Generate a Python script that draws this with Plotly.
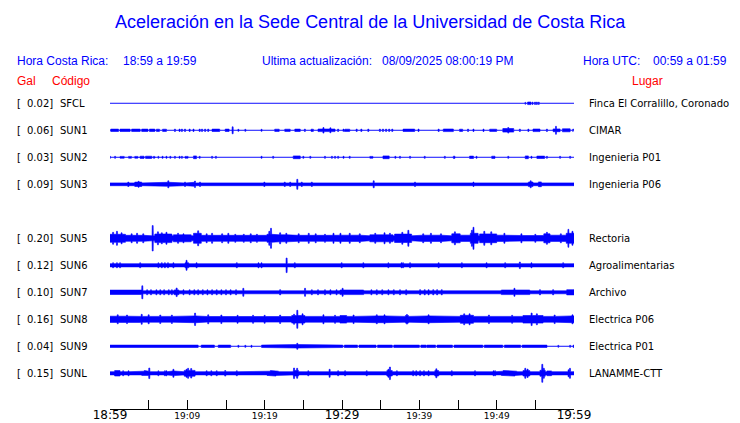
import numpy as np
import plotly.graph_objects as go

# ---------------- data ----------------
codes = ["SFCL", "SUN1", "SUN2", "SUN3", "SUN5", "SUN6", "SUN7", "SUN8", "SUN9", "SUNL"]
slots = [0, 1, 2, 3, 5, 6, 7, 8, 9, 10]
gal = ["0.02", "0.06", "0.03", "0.09", "0.20", "0.12", "0.10", "0.16", "0.04", "0.15"]
places = ["Finca El Corralillo, Coronado", "CIMAR", "Ingenieria P01", "Ingenieria P06",
          "Rectoria", "Agroalimentarias", "Archivo", "Electrica P06", "Electrica P01", "LANAMME-CTT"]

tick_minutes = [0, 5, 10, 15, 20, 25, 30, 35, 40, 45, 50, 55, 60]
big_labels = {0: "18:59", 30: "19:29", 60: "19:59"}
small_labels = {10: "19:09", 20: "19:19", 40: "19:39", 50: "19:49"}

# envelope description of each trace (minutes after 18:59, half amplitude in display units)
base = {"SFCL": 0, "SUN1": 0, "SUN2": 0, "SUN3": 1.4, "SUN5": 2.5, "SUN6": 1.6,
        "SUN7": 1.5, "SUN8": 2.3, "SUN9": 0, "SUNL": 1.6}

segs = {
    "SFCL": [(53.66, 53.75, 1.0), (54.0, 54.44, 1.3)],
    "SUN1": [(0.1, 1.1, 1.2), (1.3, 2.6, 1.2), (2.8, 3.9, 1.2), (4.1, 4.9, 1.2), (5.1, 5.8, 1.2),
             (6.0, 6.4, 1.1), (6.8, 7.3, 1.1), (13.2, 14.2, 1.2), (14.9, 15.4, 1.2), (21.3, 21.9, 1.1),
             (22.6, 23.3, 1.1), (23.9, 24.6, 1.2), (26.0, 26.3, 1.1), (26.9, 29.1, 1.3),
             (30.3, 31.0, 1.1), (37.9, 39.4, 1.2), (43.1, 44.4, 1.3), (45.2, 45.6, 1.1),
             (49.1, 50.0, 1.1), (50.8, 52.2, 1.8), (54.7, 55.6, 1.3), (57.3, 58.2, 1.4), (58.5, 59.5, 1.5)],
    "SUN2": [(1.3, 1.85, 0.9), (2.4, 2.8, 0.9), (3.2, 3.6, 0.9), (3.9, 4.4, 1.1), (4.6, 5.4, 1.1),
             (5.6, 5.8, 0.9), (9.7, 10.1, 0.9), (10.8, 11.2, 1.4), (23.7, 24.6, 1.4), (33.6, 34.0, 0.9),
             (35.3, 36.1, 1.4), (44.4, 44.6, 1.1), (46.5, 47.0, 1.2), (49.35, 49.8, 1.1),
             (53.7, 54.1, 1.4), (55.2, 56.2, 1.2)],
    "SUN3": [(0.4, 1.1, 2.0), (3.2, 4.1, 2.2), (4.5, 5.8, 1.8), (6.7, 8.4, 2.0), (10.3, 11.0, 2.0),
             (13.6, 14.0, 2.1), (35.56, 36.0, 2.1), (54.1, 54.7, 2.3), (55.4, 55.8, 2.4)],
    "SUN5": [(0, 2, 4.0), (2, 5.3, 3.0), (5.8, 8.0, 4.3), (8.2, 10.5, 3.5), (10.8, 11.8, 5.0),
             (11.8, 20.3, 3.0), (20.3, 21.5, 4.0), (21.5, 23.5, 3.5), (23.5, 30.4, 3.0),
             (29.7, 33.3, 3.1), (33.6, 36.6, 3.5), (36.8, 39.0, 4.2), (39.2, 44.0, 3.1),
             (44.2, 45.3, 4.5), (45.3, 46.6, 3.1), (46.6, 47.6, 5.0), (47.8, 50.0, 4.4),
             (50.0, 52.3, 3.1), (52.3, 56.1, 2.8), (56.1, 56.9, 4.5), (56.9, 59.0, 3.1), (59.0, 60.0, 5.0)],
    "SUN6": [(9.7, 10.2, 2.5), (43.8, 44.6, 2.3)],
    "SUN7": [(0, 1.9, 2.2), (3.0, 4.1, 2.2), (8.3, 8.9, 2.4), (19.5, 21.5, 2.2), (22.4, 24.9, 2.2),
             (29.74, 32.8, 2.3), (50.6, 54.3, 2.3), (59.05, 60, 2.6)],
    "SUN8": [(0, 4, 3.1), (4, 10, 2.9), (10, 12, 3.4), (12, 23.5, 2.8), (23.5, 25.2, 3.8),
             (25.2, 30.4, 2.9), (29.74, 30.6, 3.8), (30.6, 33.5, 2.9), (33.5, 36, 3.4), (36, 38.2, 2.9),
             (38.2, 38.6, 3.8), (38.6, 40.6, 2.9), (40.6, 41.8, 3.4), (41.8, 45.3, 2.9), (45.3, 47, 4.0),
             (47, 53.4, 2.9), (53.4, 56.0, 3.8), (56, 59.5, 2.9), (59.5, 60, 3.4)],
    "SUN9": [(0, 0.6, 1.2), (0.6, 1.5, 1.6), (1.5, 11.4, 1.2), (11.8, 13.5, 1.2), (14.0, 15.6, 1.2),
             (19.6, 24.0, 1.2), (24.0, 24.4, 1.7), (24.4, 30.1, 1.2), (30.3, 32.0, 1.2), (32.2, 34.4, 1.2),
             (34.6, 36.5, 1.2), (36.7, 40.0, 1.2), (40.2, 40.9, 1.2), (41.0, 42.1, 1.2), (42.3, 44.3, 1.2),
             (44.5, 48.2, 1.2), (48.4, 50.8, 1.2), (51.0, 53.1, 1.2), (53.3, 56.5, 1.2), (59.9, 60.0, 1.2)],
    "SUNL": [(0.6, 1.3, 2.7), (4.1, 5.0, 2.1), (8.0, 8.5, 2.3), (9.6, 11.0, 2.9), (20.3, 21.8, 2.1),
             (23.7, 24.4, 2.7), (35.8, 36.5, 2.7), (42.0, 42.5, 2.7), (50.6, 52.6, 2.1), (53.4, 54.3, 2.7),
             (55.6, 56.3, 3.0), (56.5, 57.1, 2.4)],
}

spikes = {
    "SFCL": [(54.65, 1.2), (54.96, 1.2), (55.2, 1.2), (55.45, 1.2)],
    "SUN1": [(8.4, 1.2), (9.0, 1.2), (9.3, 1.2), (9.7, 1.2), (10.3, 1.2), (10.8, 1.2), (11.6, 1.2),
             (11.9, 1.2), (12.3, 1.2), (12.7, 1.2), (15.86, 3.5), (16.6, 1.0), (17.5, 1.0), (19.6, 1.0),
             (25.2, 1.2), (27.6, 2.8), (28.5, 2.5), (29.5, 1.2), (30.2, 1.2), (31.9, 1.2), (32.5, 1.2),
             (33.4, 1.2), (34.9, 1.2), (35.3, 1.2), (35.7, 1.2), (36.1, 1.2), (36.5, 1.2), (39.9, 1.2),
             (42.5, 1.2), (46.3, 1.2), (47.0, 1.2), (48.3, 1.2), (51.2, 2.5), (51.5, 2.8), (53.0, 1.2),
             (54.1, 1.2), (56.5, 1.2), (57.67, 4.0), (59.9, 1.2)],
    "SUN2": [(0.0, 1.0), (0.65, 1.0), (6.25, 1.0), (6.8, 1.0), (7.3, 1.0), (7.8, 1.0), (8.4, 1.0),
             (9.0, 1.0), (9.3, 1.0), (11.6, 1.0), (13.2, 1.0), (13.7, 1.0), (19.6, 1.0), (21.1, 1.0),
             (25.0, 1.0), (25.9, 1.0), (27.8, 1.0), (28.7, 1.0), (29.1, 1.0), (29.5, 1.0), (30.2, 1.0),
             (31.0, 1.0), (36.9, 1.0), (37.5, 1.0), (38.8, 1.0), (40.7, 1.0), (43.3, 1.0), (47.4, 1.0),
             (51.5, 1.0), (54.5, 1.0), (56.5, 1.0), (58.2, 1.0), (59.5, 1.0)],
    "SUN3": [(2.37, 2.2), (3.7, 3.0), (7.54, 3.5), (9.7, 2.2), (10.99, 3.3), (11.64, 2.2), (19.96, 2.2),
             (22.6, 2.2), (23.3, 2.2), (24.22, 5.0), (24.8, 2.2), (26.1, 2.2), (34.1, 3.5), (39.44, 2.2),
             (44.2, 2.0), (47.0, 2.2), (49.6, 2.0), (54.4, 3.5)],
    "SUN5": [(0.4, 6.0), (0.9, 7.0), (1.5, 5.5), (2.8, 4.5), (3.5, 5.0), (4.3, 4.5), (5.52, 12.7),
             (6.2, 6.5), (6.7, 5.5), (7.3, 6.0), (8.8, 5.0), (9.5, 4.5), (11.4, 7.5), (12.5, 4.5),
             (13.2, 5.0), (14.5, 4.5), (15.3, 5.0), (16.2, 4.0), (17.3, 4.0), (18.2, 4.5), (19.0, 4.0),
             (20.6, 7.0), (20.82, 10.0), (22.0, 5.5), (22.8, 5.0), (24.4, 4.5), (25.7, 5.0), (26.6, 4.5),
             (27.8, 4.0), (28.9, 5.0), (29.8, 5.0), (31.0, 5.0), (32.3, 4.5), (34.3, 5.0), (35.5, 5.5),
             (36.2, 5.0), (37.8, 6.0), (38.58, 8.0), (40.5, 4.5), (41.5, 5.0), (42.8, 4.5), (44.6, 6.5),
             (46.8, 8.0), (47.0, 11.0), (48.4, 7.0), (49.3, 6.5), (51.0, 5.0), (53.2, 4.5), (55.0, 4.0),
             (56.5, 6.0), (58.3, 4.5), (59.27, 9.0), (59.8, 7.0)],
    "SUN6": [(0.4, 2.5), (0.9, 2.5), (1.3, 2.5), (3.9, 2.5), (6.25, 2.5), (6.7, 2.5), (7.1, 2.5),
             (7.5, 2.5), (8.2, 2.5), (9.9, 5.0), (11.2, 2.5), (16.4, 2.5), (19.2, 2.5), (19.6, 2.5),
             (22.84, 7.3), (23.9, 2.5), (29.96, 2.5), (32.76, 2.5), (35.99, 2.5), (37.7, 2.5), (37.9, 2.5),
             (38.8, 2.5), (42.5, 2.5), (45.5, 2.5), (48.7, 2.5), (51.1, 2.5), (53.0, 3.3), (54.5, 2.5),
             (58.6, 2.5)],
    "SUN7": [(4.18, 6.5), (4.8, 2.5), (5.3, 2.5), (6.0, 2.5), (6.5, 2.5), (7.0, 2.5), (7.6, 2.5),
             (8.0, 2.5), (8.62, 4.3), (9.5, 2.5), (10.3, 2.5), (10.9, 2.5), (11.4, 2.5), (12.0, 2.5),
             (12.6, 2.5), (13.2, 2.5), (13.8, 2.5), (14.4, 2.5), (15.0, 2.5), (15.6, 2.5), (16.3, 2.5),
             (17.24, 4.0), (22.0, 2.6), (25.22, 4.0), (26.1, 2.5), (26.9, 2.5), (27.8, 2.5), (28.5, 2.5),
             (29.3, 2.5), (30.08, 4.0), (33.8, 2.5), (34.5, 2.5), (35.2, 2.5), (36.0, 2.5), (36.7, 2.5),
             (37.5, 2.5), (38.3, 2.5), (40.1, 2.6), (40.7, 2.6), (41.2, 2.6), (41.8, 2.6), (42.3, 2.6),
             (42.9, 2.6), (52.3, 4.0), (55.6, 2.6), (57.3, 2.6)],
    "SUN8": [(1.0, 4.5), (2.2, 4.3), (4.1, 5.0), (5.0, 4.5), (6.5, 4.3), (8.0, 4.2), (11.0, 6.2),
             (12.7, 4.5), (14.4, 4.3), (16.5, 4.0), (18.5, 4.0), (20.0, 4.0), (22.0, 4.2), (23.8, 5.0),
             (24.22, 9.0), (24.9, 5.5), (27.6, 4.5), (29.1, 4.0), (31.5, 4.3), (34.5, 4.5), (35.5, 4.5),
             (38.4, 4.8), (41.2, 4.5), (45.8, 5.5), (46.5, 5.5), (49.0, 4.3), (52.0, 4.0), (54.52, 6.3),
             (55.2, 5.5), (57.5, 4.3), (59.8, 4.5)],
    "SUN9": [(16.6, 1.0), (17.5, 1.0), (18.3, 1.0), (24.22, 3.0), (57.97, 1.0), (59.5, 1.0)],
    "SUNL": [(1.7, 2.5), (2.4, 2.5), (4.5, 2.8), (5.09, 5.3), (6.25, 2.5), (7.1, 2.5), (7.3, 2.5),
             (8.2, 4.0), (9.9, 4.0), (10.1, 5.0), (10.5, 4.8), (12.5, 2.5), (13.1, 2.5), (13.8, 2.5),
             (14.9, 2.8), (16.4, 2.5), (20.8, 2.8), (21.4, 2.8), (23.8, 5.3), (24.2, 5.0), (25.65, 2.5),
             (28.4, 4.0), (29.5, 2.5), (30.4, 2.5), (33.2, 2.5), (36.0, 4.0), (36.2, 6.3), (37.1, 2.5),
             (39.2, 2.5), (39.6, 2.5), (40.1, 2.5), (40.6, 2.5), (41.2, 2.5), (42.2, 4.5), (44.2, 2.5),
             (47.2, 2.5), (49.6, 2.5), (49.8, 2.5), (50.9, 2.8), (51.6, 2.8), (52.3, 2.8), (53.7, 5.0),
             (54.0, 4.2), (55.9, 9.0), (56.1, 5.0), (59.3, 3.5), (59.48, 5.0)],
}

# ---------------- layout geometry ----------------
W, H = 740, 423
L, R, T, B = 110, 574, 90, 409
SLOT = 27
FIRST = 103.3
BLUE = "#0000ff"
RED = "#ff0000"


def px(x):
    return (x - L) / (R - L)


def py(y):
    return (B - y) / (B - T)


fig = go.Figure()

t = np.linspace(0, 60, 3001)
for code, slot in zip(codes, slots):
    env = np.full_like(t, float(base[code]))
    for a, b, amp in segs[code]:
        m = (t >= a) & (t <= b)
        env[m] = np.maximum(env[m], amp)
    for tc, amp in spikes[code]:
        m = np.abs(t - tc) <= 0.07
        env[m] = np.maximum(env[m], amp)
    c = -SLOT * slot
    xs = np.concatenate([t, t[::-1]])
    ys = np.concatenate([c + env, (c - env)[::-1]])
    fig.add_trace(go.Scatter(x=xs, y=ys, mode="lines", fill="toself", fillcolor=BLUE,
                             xaxis="x2" if code == "SFCL" else "x",
                             line=dict(color=BLUE, width=0.6), hoverinfo="skip", showlegend=False))

fig.update_layout(
    width=W, height=H,
    margin=dict(l=L, r=W - R, t=T, b=H - B, pad=0, autoexpand=False),
    paper_bgcolor="white", plot_bgcolor="white",
    showlegend=False,
    xaxis=dict(range=[0, 60], tickmode="array", tickvals=tick_minutes,
               ticktext=[big_labels.get(m, "") for m in tick_minutes],
               ticks="inside", ticklen=9, tickwidth=1, tickcolor="black",
               showline=True, linecolor="black", linewidth=1, showgrid=False, zeroline=False,
               automargin=False, ticklabelstandoff=-5,
               tickfont=dict(family="DejaVu Sans", size=12, color="black"), fixedrange=True),
    xaxis2=dict(range=[0, 60], overlaying="x", anchor="y", side="bottom", tickmode="array",
                tickvals=list(small_labels.keys()), ticktext=list(small_labels.values()),
                ticks="", showline=False, showgrid=False, zeroline=False, automargin=False,
                tickfont=dict(family="DejaVu Sans", size=9, color="black"), fixedrange=True),
    yaxis=dict(range=[-(B - FIRST), FIRST - T], visible=False, showgrid=False, zeroline=False,
               automargin=False, fixedrange=True),
)

ann = []


def add(text, x, y, color="black", size=10, family="DejaVu Sans", xanchor="left"):
    ann.append(dict(text=text, x=px(x), y=py(y), xref="paper", yref="paper", showarrow=False,
                    xanchor=xanchor, yanchor="middle", font=dict(family=family, size=size, color=color)))


add("Aceleración en la Sede Central de la Universidad de Costa Rica", 370, 22, BLUE, 18,
    "Liberation Sans", "center")
add("Hora Costa Rica:", 15, 61, BLUE, 12, "Liberation Sans")
add("18:59 a 19:59", 120.5, 61, BLUE, 12, "Liberation Sans")
add("Ultima actualización:", 260, 61, BLUE, 12, "Liberation Sans")
add("08/09/2025 08:00:19 PM", 380, 61, BLUE, 12, "Liberation Sans")
add("Hora UTC:", 580.5, 61, BLUE, 12, "Liberation Sans")
add("00:59 a 01:59", 650.5, 61, BLUE, 12, "Liberation Sans")
add("Gal", 15, 81, RED, 12, "Liberation Sans")
add("Código", 50, 81, RED, 12, "Liberation Sans")
add("Lugar", 630, 81, RED, 12, "Liberation Sans")

for code, slot, g, place in zip(codes, slots, gal, places):
    yy = FIRST + SLOT * slot
    add("[", 14.5, yy)
    add(g + "]", 54.5, yy, xanchor="right")
    add(code, 58, yy)
    add(place, 587, yy)

fig.update_layout(annotations=ann)
fig.write_html("out.html", config={"displayModeBar": False},
               post_script="document.body.style.margin='0';")
